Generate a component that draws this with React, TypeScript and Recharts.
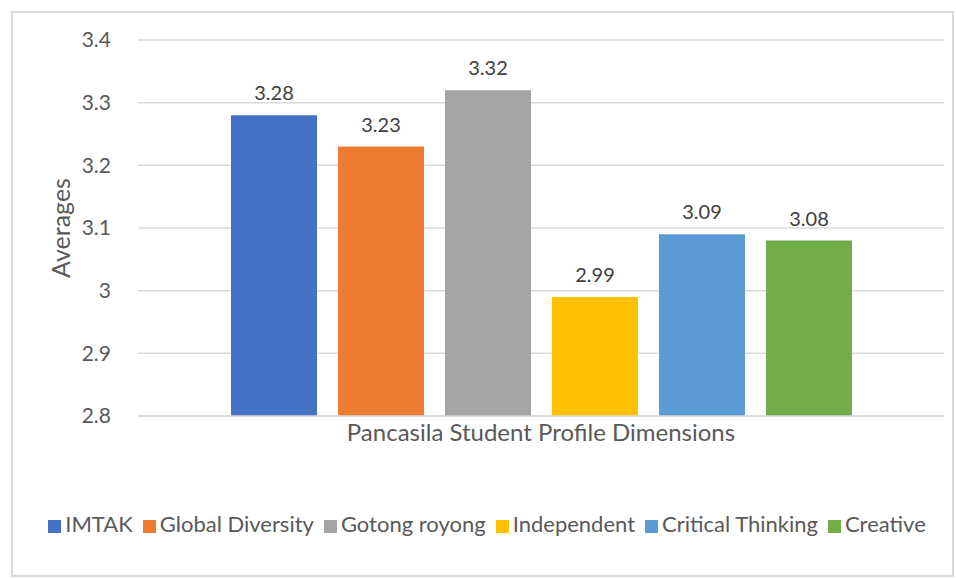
import React from 'react';
import { BarChart, Bar, XAxis, YAxis, CartesianGrid, Legend, LabelList, Label } from 'recharts';

const categories = ['Pancasila Student Profile Dimensions'];
const seriesNames = ['IMTAK', 'Global Diversity', 'Gotong royong', 'Independent', 'Critical Thinking', 'Creative'];
const seriesValues = [3.28, 3.23, 3.32, 2.99, 3.09, 3.08];
const seriesColors = ['#4472C4', '#ED7D31', '#A5A5A5', '#FFC000', '#5B9BD5', '#70AD47'];
const yTicks = [2.8, 2.9, 3.0, 3.1, 3.2, 3.3, 3.4];

const FONT = "Lato, 'Open Sans', sans-serif";

const data = categories.map((name) => {
  const row: Record<string, string | number> = { name };
  seriesNames.forEach((s, i) => {
    row[s] = seriesValues[i];
  });
  return row;
});

const App: React.FC = () => {
  return (
    <div style={{ position: 'absolute', left: 0, top: 0, width: 956, height: 579, background: '#fff', fontFamily: FONT }}>
      <div
        style={{
          position: 'absolute',
          left: 11,
          top: 11,
          width: 943,
          height: 566,
          border: '2px solid #d9d9d9',
          boxSizing: 'border-box',
        }}
      />
      <BarChart
        width={956}
        height={579}
        data={data}
        margin={{ top: 40, right: 12, left: 0, bottom: 42 }}
        barCategoryGap={93}
        barGap={21}
      >
        <CartesianGrid vertical={false} stroke="#d9d9d9" strokeWidth={1.5} />
        <XAxis
          dataKey="name"
          tick={false}
          tickLine={false}
          axisLine={{ stroke: '#d9d9d9', strokeWidth: 1.5 }}
          height={94}
        >
          <Label
            value={categories[0]}
            position="insideTop"
            offset={8}
            style={{ fill: '#595959', fontSize: 24, fontFamily: FONT }}
          />
        </XAxis>
        <YAxis
          domain={[2.8, 3.4]}
          ticks={yTicks}
          tickFormatter={(v: number) => String(Math.round(v * 10) / 10)}
          width={138}
          axisLine={false}
          tickLine={false}
          tickMargin={21}
          tick={{ fill: '#595959', fontSize: 21, fontFamily: FONT }}
        >
          <Label
            value="Averages"
            angle={-90}
            position="insideLeft"
            offset={61}
            style={{ fill: '#595959', fontSize: 25, fontFamily: FONT, textAnchor: 'middle' }}
          />
        </YAxis>
        <Legend
          verticalAlign="bottom"
          align="center"
          iconType="square"
          iconSize={13}
          itemSorter={(item: any) => seriesNames.indexOf(item.value)}
          wrapperStyle={{ fontSize: 22, fontFamily: FONT, paddingLeft: 40, boxSizing: 'border-box' }}
          formatter={(value: string) => <span style={{ color: '#595959' }}>{value}</span>}
        />
        {seriesNames.map((s, i) => (
          <Bar key={s} dataKey={s} fill={seriesColors[i]} isAnimationActive={false}>
            <LabelList
              dataKey={s}
              position="top"
              offset={15}
              style={{ fill: '#404040', fontSize: 20, fontFamily: FONT }}
            />
          </Bar>
        ))}
      </BarChart>
    </div>
  );
};

export default App;
